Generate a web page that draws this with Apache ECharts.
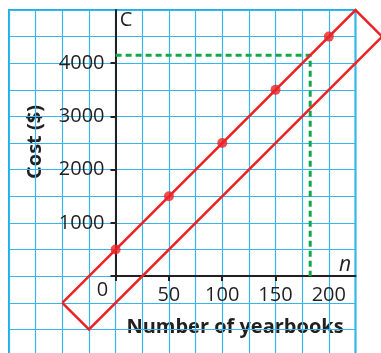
<!DOCTYPE html>
<html>
<head>
<meta charset="utf-8">
<script src="https://cdn.jsdelivr.net/npm/echarts@6/dist/echarts.min.js"></script>
<style>
    html, body { margin: 0; padding: 0; background: #fff; }
    #chart { width: 381px; height: 353px; }
</style>
</head>
<body>
<div id="chart"></div>
<script>
// data
const pointN = [0, 50, 100, 150, 200];
const pointC = [500, 1500, 2500, 3500, 4500];
// rectangle drawn round the points
const bandN = [-50, 225, 250, -25, -50];
const bandC = [-500, 5000, 4500, -1000, -500];
// green guide at C = 4150
const guideN = [0, 182.5, 182.5];
const guideC = [4150, 4150, 0];
const xLabels = [0, 50, 100, 150, 200];
const xTicks = [0, 50, 100, 150];
const yLabels = [1000, 2000, 3000, 4000];
const yTicks = [0, 1000, 2000, 3000, 4000];

const zip = (a, b) => a.map((v, i) => [v, b[i]]);
const ink = '#231f20';
const red = '#ed2224';
const font = '"Open Sans", sans-serif';

let chart = echarts.init(document.getElementById('chart'));

let option = {
    animation: false,
    backgroundColor: '#fff',
    grid: [
        {   // whole squared paper
            left: 9, right: 25.5, top: 10, bottom: -3,
            show: true,
            borderColor: '#1cb0e8',
            borderWidth: 2,
            backgroundColor: '#fff',
            outerBoundsMode: 'none'
        },
        {   // first quadrant, holds the drawn axes
            left: 115.5, right: 25.5, top: 10, bottom: 77,
            outerBoundsMode: 'none'
        }
    ],
    xAxis: [
        {
            gridIndex: 0, type: 'value', min: -100, max: 225, interval: 25,
            axisLine: { show: false }, axisTick: { show: false }, axisLabel: { show: false },
            splitLine: { show: true, lineStyle: { color: '#36b6ea', width: 1.2 } }
        },
        {
            gridIndex: 1, type: 'value', min: 0, max: 225, interval: 50,
            axisLine: { show: true, onZero: false, lineStyle: { color: ink, width: 2 } },
            axisTick: { show: true, length: 5, customValues: xTicks, lineStyle: { color: ink, width: 2 } },
            splitLine: { show: false },
            axisLabel: {
                margin: 4,
                customValues: xLabels,
                color: ink, fontFamily: font, fontSize: 20,
                formatter: function (v) {
                    if (!xLabels.includes(v)) return '';
                    return v === 0 ? '{z|0}' : '{a|' + v + '}';
                },
                rich: {
                    a: { fontFamily: font, fontSize: 20, color: ink, padding: [5, 0, 0, 0] },
                    z: { fontFamily: font, fontSize: 20, color: ink, padding: [0, 26, 0, 0] }
                }
            }
        }
    ],
    yAxis: [
        {
            gridIndex: 0, type: 'value', min: -1500, max: 5000, interval: 500,
            axisLine: { show: false }, axisTick: { show: false }, axisLabel: { show: false },
            splitLine: { show: true, lineStyle: { color: '#36b6ea', width: 1.2 } }
        },
        {
            gridIndex: 1, type: 'value', min: 0, max: 5000, interval: 1000,
            axisLine: { show: true, onZero: false, lineStyle: { color: ink, width: 2 } },
            axisTick: { show: true, length: 5, customValues: yTicks, lineStyle: { color: ink, width: 2 } },
            splitLine: { show: false },
            axisLabel: {
                margin: 11,
                customValues: yLabels,
                color: ink, fontFamily: font, fontSize: 20,
                formatter: v => yLabels.includes(v) ? String(v) : ''
            }
        }
    ],
    graphic: [
        { type: 'text', x: 126, y: 20, style: { text: 'C', font: '20px ' + font, fill: ink, align: 'center', verticalAlign: 'middle' } },
        { type: 'text', x: 345, y: 265, style: { text: 'n', font: 'italic 21px ' + font, fill: ink, align: 'center', verticalAlign: 'middle' } },
        { type: 'text', x: 35, y: 142, rotation: Math.PI / 2, style: { text: 'Cost ($)', font: 'bold 20px ' + font, fill: ink, align: 'center', verticalAlign: 'middle' } },
        { type: 'text', x: 235, y: 327, style: { text: 'Number of yearbooks', font: 'bold 20px ' + font, fill: ink, align: 'center', verticalAlign: 'middle' } }
    ],
    series: [
        {
            type: 'line', data: zip(guideN, guideC), symbol: 'none', z: 4,
            lineStyle: { color: '#12a84a', width: 3, type: [6, 4] }
        },
        {
            type: 'custom', data: [[0, 0]], clip: false, z: 5,
            renderItem: function (params, api) {
                const pts = bandN.map((n, i) => api.coord([n, bandC[i]]));
                return {
                    type: 'polyline',
                    shape: { points: pts },
                    style: { stroke: red, lineWidth: 2.5, fill: null }
                };
            }
        },
        {
            type: 'scatter', data: zip(pointN, pointC), symbolSize: 10, z: 6,
            itemStyle: { color: red }
        }
    ]
};
chart.setOption(option);
</script>
</body>
</html>
